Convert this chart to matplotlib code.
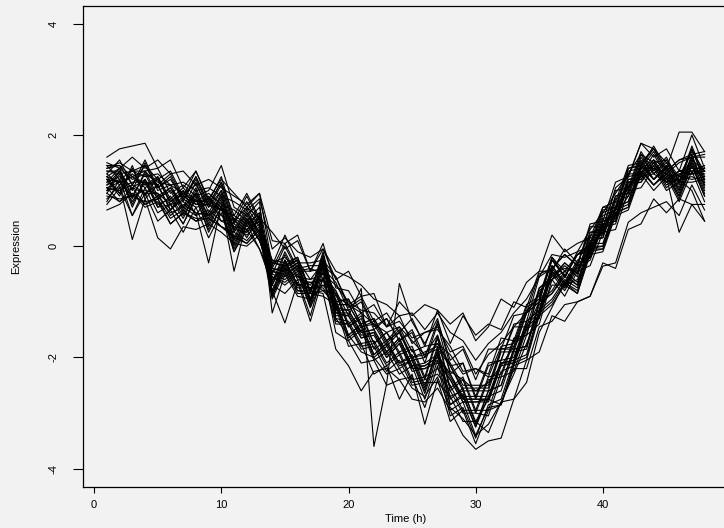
import numpy as np
import matplotlib.pyplot as plt

plt.rcParams['font.family'] = ['Liberation Sans', 'DejaVu Sans']

# time points (hours)
hours = list(range(1, 49))

# expression profiles, one list per gene
g01 = [1.60, 1.75, 1.80, 1.85, 1.40, 1.55, 1.05, 1.35, 0.85, 1.20, 0.95, 0.70,
       0.95, 0.10, 0.05, 0.20, -0.45, 0.05, -0.75, -0.80, -1.20, -1.05, -1.45, -1.25,
       -1.75, -1.55, -1.50, -1.80, -2.25, -2.20, -2.30, -1.65, -1.70, -1.05, -0.90, -0.20,
       -0.45, -0.15, 0.05, 0.70, 0.80, 1.45, 1.50, 1.75, 1.35, 1.55, 1.65, 1.70]
g02 = [1.30, 1.55, 1.10, 1.45, 1.05, 1.20, 0.85, 1.25, 0.75, 1.15, 0.55, 0.95,
       0.50, 0.25, -0.05, 0.10, -0.45, -0.05, -0.60, -0.45, -0.90, -0.85, -1.45, -1.00,
       -1.25, -1.05, -1.15, -1.40, -1.20, -1.70, -1.45, -0.95, -1.10, -0.65, -0.45, 0.20,
       -0.10, 0.05, 0.15, 0.70, 0.70, 1.30, 1.30, 1.55, 1.20, 1.35, 1.35, 1.45]
g03 = [1.20, 0.95, 1.45, 0.85, 1.10, 0.65, 1.00, 0.55, 0.90, 0.45, 0.50, 0.15,
       0.55, -0.85, -0.30, -0.75, -0.75, -0.70, -0.80, -1.25, -0.76, -3.60, -2.47, -0.67,
       -1.36, -1.75, -1.30, -2.15, -2.10, -2.75, -2.15, -2.05, -1.45, -1.45, -0.75, -0.60,
       -0.35, -0.55, 0.15, 0.15, 0.80, 0.90, 1.50, 1.20, 1.45, 1.00, 1.60, 1.10]
g04 = [1.00, 1.35, 0.75, 1.20, 0.70, 0.75, 0.40, 0.90, 0.25, 0.70, -0.10, 0.40,
       -0.05, -0.70, -0.85, -0.60, -1.25, -0.45, -1.55, -1.70, -2.10, -2.05, -2.50, -2.40,
       -2.75, -2.80, -2.55, -2.95, -3.40, -3.65, -3.50, -3.45, -2.75, -2.45, -1.55, -1.10,
       -0.65, -0.85, -0.05, 0.00, 0.70, 0.80, 1.45, 1.20, 1.40, 0.95, 1.55, 1.00]
g05 = [0.90, 0.85, 0.90, 0.80, 0.85, 0.40, 0.60, 0.50, 0.50, 0.35, 0.15, 0.05,
       0.30, -0.90, -0.35, -0.80, -0.80, -0.85, -1.85, -2.15, -2.60, -2.25, -2.20, -2.40,
       -2.35, -2.90, -2.15, -3.05, -2.90, -3.45, -2.85, -2.75, -2.05, -1.95, -1.15, -0.95,
       -0.60, -0.75, -0.05, -0.05, 0.60, 0.70, 1.35, 1.10, 1.30, 0.90, 1.45, 0.90]
g06 = [1.05, 0.80, 0.95, 0.75, 0.85, 0.50, 0.65, 0.45, 0.60, 0.35, 0.25, 0.10,
       0.35, -0.70, -0.25, -0.70, -0.65, -0.80, -0.85, -1.45, -1.30, -1.85, -1.70, -2.10,
       -1.95, -2.50, -1.90, -2.70, -2.60, -3.15, -2.75, -2.85, -2.20, -2.20, -1.45, -1.35,
       -1.05, -1.00, -0.90, -0.36, -0.30, 0.43, 0.60, 0.70, 0.80, 0.55, 1.10, 0.65]
g07 = [1.40, 1.50, 1.35, 1.45, 1.20, 1.35, 0.90, 1.35, 0.80, 1.25, 0.45, 0.90,
       0.45, -0.25, -0.30, -0.20, -0.80, -0.15, -1.00, -0.95, -1.40, -1.30, -1.70, -1.55,
       -2.00, -1.95, -1.85, -2.15, -2.60, -2.60, -2.60, -1.90, -1.90, -1.20, -1.00, -0.20,
       -0.55, -0.15, 0.00, 0.65, 0.70, 1.40, 1.45, 1.80, 1.40, 2.05, 2.05, 1.70]
g08 = [1.15, 1.40, 0.85, 1.35, 0.90, 1.05, 0.65, 1.05, 0.50, 0.95, 0.15, 0.60,
       0.25, -0.40, -0.45, -0.30, -0.95, -0.25, -1.15, -1.15, -1.55, -1.50, -1.90, -1.65,
       -2.15, -2.10, -1.95, -2.30, -2.70, -2.70, -2.70, -2.05, -2.00, -1.35, -1.15, -0.35,
       -0.65, -0.25, -0.15, 0.45, 0.55, 1.25, 1.30, 1.65, 1.25, 0.25, 0.75, 0.45]
g09 = [0.85, 1.10, 0.12, 0.85, 0.15, -0.05, 0.35, 0.30, 0.40, 0.25, 0.05, 0.00,
       0.20, -0.95, -0.45, -0.85, -0.85, -0.90, -1.05, -1.65, -1.45, -2.00, -1.80, -2.20,
       -2.05, -2.65, -1.95, -2.85, -2.70, -3.25, -2.70, -2.60, -1.90, -1.85, -1.05, -0.85,
       -0.55, -0.70, 0.00, 0.00, 0.65, 0.75, 1.40, 1.10, 1.35, 0.90, 1.50, 0.95]
g10 = [1.25, 0.95, 1.05, 0.95, 0.95, 0.55, 0.75, 0.60, -0.30, 0.75, -0.45, 0.45,
       0.10, -0.50, -0.60, -0.40, -1.05, -0.35, -1.25, -1.25, -1.65, -1.60, -2.00, -1.75,
       -2.25, -2.20, -2.10, -2.40, -2.80, -2.80, -2.80, -2.15, -2.10, -1.45, -1.25, -0.45,
       -0.75, -0.35, -0.20, 0.40, 0.45, 1.15, 1.20, 1.50, 1.15, 1.30, 1.35, 1.35]
g11 = [1.35, 1.30, 1.35, 1.35, 1.40, 0.95, 1.10, 0.90, 1.00, 1.45, 0.70, 0.55,
       0.80, -1.20, -0.50, -0.90, -0.95, -0.70, -1.00, -1.60, -1.40, -1.95, -1.75, -2.10,
       -2.00, -2.55, -1.80, -2.75, -2.55, -3.20, -2.60, -2.50, -1.85, -1.80, -1.00, -0.80,
       -0.45, -0.65, 0.10, 0.15, 0.85, 0.95, 1.60, 1.30, 1.50, 1.10, 1.75, 1.15]
g12 = [1.10, 1.20, 0.80, 1.15, 0.70, 0.90, 0.55, 0.95, 0.40, 0.85, 0.05, 0.50,
       0.15, -0.80, -1.38, -0.65, -1.35, -0.55, -1.35, -1.40, -1.80, -1.75, -2.15, -1.95,
       -2.45, -2.40, -2.30, -2.60, -3.00, -3.00, -3.05, -2.35, -2.25, -1.60, -1.40, -0.60,
       -0.90, -0.45, -0.35, 0.25, 0.30, 1.00, 1.05, 1.40, 1.00, 1.15, 1.15, 1.20]
g13 = [1.30, 1.10, 1.30, 1.10, 1.25, 0.85, 1.05, 0.80, 0.95, 0.75, 0.65, 0.45,
       0.70, -0.40, 0.05, -0.40, -0.35, -0.35, -0.55, -1.05, -0.90, -1.35, -1.20, -1.55,
       -1.30, -1.80, -1.15, -1.75, -1.25, -1.60, -1.40, -1.50, -1.00, -1.10, -0.45, -0.45,
       -0.05, -0.30, 0.25, 0.25, 0.90, 0.95, 1.55, 1.20, 1.45, 1.05, 1.60, 1.10]
g14 = [0.75, 1.05, 0.55, 0.95, 0.45, 0.65, 0.25, 0.70, 0.15, 0.60, -0.10, 0.30,
       -0.05, -0.55, -0.70, -0.50, -1.10, -0.60, -1.40, -1.40, -1.85, -1.80, -2.25, -2.05,
       -2.50, -2.45, -2.45, -2.70, -3.15, -3.15, -3.35, -2.80, -2.75, -2.05, -1.90, -1.25,
       -1.35, -1.00, -0.90, -0.30, -0.40, 0.30, 0.40, 0.85, 0.60, 0.85, 0.75, 0.75]
g15 = [1.20, 1.15, 1.25, 1.10, 1.20, 0.80, 0.95, 0.80, 0.85, 0.70, 0.50, 0.35,
       0.60, -0.65, -0.10, -0.55, -0.60, -0.50, -0.80, -1.40, -1.20, -1.75, -1.55, -1.90,
       -1.80, -2.35, -1.60, -2.55, -2.35, -2.95, -2.35, -2.30, -1.65, -1.60, -0.80, -0.60,
       -0.30, -0.50, 0.20, 0.20, 0.90, 1.00, 1.65, 1.30, 1.55, 1.15, 1.75, 1.20]
g16 = [1.45, 1.45, 1.25, 1.35, 1.10, 1.30, 0.85, 1.20, 0.70, 1.10, 0.30, 0.70,
       0.35, -0.30, -0.35, -0.20, -0.85, -0.10, -1.05, -1.05, -1.45, -1.40, -1.80, -1.55,
       -2.05, -2.00, -1.75, -2.15, -2.55, -2.55, -2.55, -1.85, -1.85, -1.20, -1.00, -0.25,
       -0.55, -0.15, -0.05, 0.55, 0.65, 1.35, 1.40, 1.70, 1.30, 1.50, 1.60, 1.60]
g17 = [0.95, 1.30, 0.70, 1.20, 0.75, 0.85, 0.50, 0.95, 0.35, 0.80, 0.00, 0.50,
       0.10, -0.45, -0.55, -0.35, -1.00, -0.35, -1.20, -1.25, -1.65, -1.55, -2.00, -1.75,
       -2.20, -2.20, -2.05, -2.40, -2.80, -2.80, -2.75, -2.10, -2.10, -1.45, -1.25, -0.45,
       -0.75, -0.35, -0.20, 0.40, 0.45, 1.15, 1.15, 1.45, 1.10, 1.25, 1.30, 1.30]
g18 = [1.05, 1.00, 1.10, 0.95, 1.10, 0.65, 0.85, 0.70, 0.75, 0.55, 0.40, 0.25,
       0.50, -0.80, -0.25, -0.70, -0.75, -0.75, -1.10, -1.80, -1.75, -2.30, -2.15, -2.75,
       -2.30, -3.20, -2.40, -3.15, -2.95, -3.55, -2.95, -2.85, -2.10, -2.00, -1.20, -1.00,
       -0.65, -0.80, -0.10, -0.05, 0.60, 0.70, 1.35, 1.10, 1.30, 0.85, 1.45, 0.90]
g19 = [1.35, 1.35, 1.00, 1.50, 1.00, 1.10, 0.70, 1.15, 0.60, 1.00, 0.25, 0.65,
       0.25, -0.40, -0.45, -0.30, -0.95, -0.25, -1.10, -1.15, -1.55, -1.50, -1.90, -1.65,
       -2.15, -2.15, -2.00, -2.30, -2.75, -2.75, -2.75, -2.10, -2.05, -1.35, -1.15, -0.35,
       -0.70, -0.30, -0.20, 0.45, 0.50, 1.20, 1.25, 1.55, 1.20, 1.35, 1.40, 1.40]
g20 = [1.25, 1.15, 1.25, 1.05, 1.20, 0.80, 1.00, 0.75, 0.85, 0.65, 0.55, 0.40,
       0.60, -0.50, 0.00, -0.45, -0.45, -0.40, -0.65, -1.15, -1.00, -1.50, -1.30, -1.70,
       -1.50, -2.00, -1.35, -2.05, -1.85, -2.40, -1.85, -1.85, -1.25, -1.20, -0.50, -0.40,
       -0.15, -0.35, 0.35, 0.35, 1.00, 1.05, 1.70, 1.35, 1.60, 1.15, 1.80, 1.25]
g21 = [0.80, 1.20, 0.55, 1.05, 0.60, 0.75, 0.40, 0.85, 0.30, 0.70, -0.05, 0.45,
       0.10, -0.55, -0.65, -0.45, -1.10, -0.40, -1.30, -1.35, -1.75, -1.70, -2.10, -1.90,
       -2.40, -2.35, -2.20, -2.50, -2.95, -2.95, -2.95, -2.25, -2.15, -1.50, -1.30, -0.50,
       -0.80, -0.40, -0.25, 0.35, 0.40, 1.10, 1.15, 1.45, 1.05, 1.25, 1.20, 1.25]
g22 = [1.50, 1.40, 1.60, 1.40, 1.55, 1.30, 1.35, 1.10, 1.20, 1.05, 0.90, 0.75,
       0.95, -0.35, 0.20, -0.30, -0.30, -0.25, -0.55, -1.10, -0.95, -1.45, -1.30, -1.70,
       -1.55, -2.10, -1.40, -2.30, -2.10, -2.70, -2.10, -2.05, -1.40, -1.35, -0.55, -0.40,
       -0.15, -0.35, 0.40, 0.45, 1.15, 1.25, 1.85, 1.60, 1.75, 1.35, 2.00, 1.40]
g23 = [1.10, 1.35, 0.90, 1.30, 0.85, 1.00, 0.60, 1.00, 0.45, 0.90, 0.10, 0.55,
       0.20, -0.45, -0.50, -0.35, -1.00, -0.30, -1.20, -1.20, -1.60, -1.55, -1.95, -1.70,
       -2.20, -2.15, -2.00, -2.35, -2.75, -2.75, -2.75, -2.10, -2.05, -1.40, -1.20, -0.40,
       -0.70, -0.30, -0.20, 0.40, 0.45, 1.15, 1.20, 1.50, 1.15, 1.30, 1.30, 1.35]
g24 = [1.20, 0.90, 1.40, 0.90, 1.25, 0.75, 0.95, 0.80, 0.80, 0.65, 0.45, 0.30,
       0.55, -0.70, -0.15, -0.60, -0.65, -0.60, -0.85, -1.45, -1.25, -1.75, -1.55, -1.95,
       -1.85, -2.40, -1.65, -2.60, -2.40, -3.00, -2.40, -2.35, -1.70, -1.60, -0.75, -0.55,
       -0.30, -0.50, 0.25, 0.30, 1.05, 1.25, 1.85, 1.75, 1.50, 1.20, 1.00, 0.45]
g25 = [1.40, 1.45, 1.10, 1.55, 1.05, 1.25, 0.80, 1.25, 0.75, 1.15, 0.40, 0.80,
       0.40, -0.30, -0.35, -0.25, -0.85, -0.20, -1.05, -1.05, -1.45, -1.35, -1.75, -1.50,
       -2.00, -1.90, -1.80, -2.10, -2.50, -2.50, -2.50, -1.85, -1.80, -1.15, -0.95, -0.20,
       -0.55, -0.10, 0.00, 0.60, 0.70, 1.40, 1.45, 1.75, 1.35, 1.55, 1.60, 1.65]
g26 = [0.65, 0.75, 0.95, 0.70, 0.80, 0.40, 0.60, 0.45, 0.50, 0.35, 0.20, 0.05,
       0.30, -0.90, -0.40, -0.80, -0.85, -0.80, -1.05, -1.70, -1.50, -2.05, -1.90, -2.30,
       -2.15, -2.75, -2.05, -2.95, -2.80, -3.40, -2.90, -2.85, -2.15, -2.05, -1.25, -1.05,
       -0.70, -0.85, -0.15, -0.10, 0.55, 0.65, 1.30, 1.00, 1.25, 0.80, 1.35, 0.80]
g27 = [1.15, 1.25, 1.05, 1.20, 0.85, 1.05, 0.70, 0.95, 0.55, 0.90, 0.25, 0.60,
       0.20, -0.25, -0.40, -0.25, -0.80, -0.20, -1.00, -0.95, -1.40, -1.30, -1.70, -1.45,
       -1.90, -1.80, -1.75, -1.95, -2.30, -2.20, -2.35, -1.80, -1.75, -1.10, -0.95, -0.25,
       -0.55, -0.15, -0.10, 0.50, 0.55, 1.20, 1.20, 1.50, 1.15, 1.35, 1.30, 1.40]
g28 = [1.00, 1.05, 1.15, 1.15, 1.10, 0.65, 0.90, 0.75, 0.75, 0.65, 0.35, 0.30,
       0.45, -0.85, -0.25, -0.70, -0.75, -0.60, -0.95, -1.60, -1.40, -1.95, -1.75, -2.15,
       -2.05, -2.60, -1.85, -2.85, -2.65, -3.25, -2.60, -2.50, -1.85, -1.80, -1.00, -0.85,
       -0.50, -0.70, 0.05, 0.05, 0.70, 0.80, 1.45, 1.20, 1.40, 1.00, 1.65, 1.05]
g29 = [1.45, 1.20, 1.35, 1.25, 1.30, 1.10, 1.15, 1.00, 1.05, 0.90, 0.80, 0.65,
       0.85, -0.05, 0.15, -0.10, -0.20, -0.05, -0.45, -0.55, -0.70, -0.95, -1.05, -1.25,
       -1.20, -1.50, -1.20, -1.55, -1.70, -2.05, -1.75, -1.55, -1.20, -0.95, -0.55, -0.15,
       -0.20, -0.10, 0.30, 0.60, 0.95, 1.30, 1.65, 1.50, 1.55, 1.25, 1.70, 1.35]
g30 = [0.95, 0.80, 1.05, 0.75, 0.90, 0.60, 0.70, 0.55, 0.65, 0.45, 0.35, 0.20,
       0.40, -0.30, -0.20, -0.45, -0.40, -0.50, -0.70, -1.00, -1.15, -1.20, -1.45, -1.35,
       -1.65, -1.55, -1.45, -1.90, -1.80, -2.30, -1.95, -1.75, -1.45, -1.20, -0.85, -0.50,
       -0.40, -0.45, 0.00, 0.25, 0.55, 0.90, 1.25, 1.30, 1.15, 1.20, 1.25, 1.15]
g31 = [1.25, 1.40, 1.20, 1.30, 1.15, 1.10, 0.95, 1.10, 0.70, 1.00, 0.45, 0.70,
       0.50, -0.60, -0.40, -0.55, -0.70, -0.35, -1.30, -1.60, -1.90, -2.00, -2.30, -2.20,
       -2.55, -2.70, -2.35, -2.90, -3.10, -3.40, -3.20, -2.80, -2.30, -1.75, -1.20, -0.70,
       -0.70, -0.60, -0.10, 0.30, 0.70, 1.05, 1.40, 1.55, 1.40, 1.25, 1.55, 1.35]
g32 = [1.05, 1.15, 0.90, 1.00, 0.95, 0.75, 0.80, 0.60, 0.55, 0.70, 0.30, 0.25,
       0.45, -0.45, -0.35, -0.25, -0.60, -0.30, -0.90, -1.05, -1.20, -1.40, -1.55, -1.45,
       -1.70, -1.95, -1.60, -2.25, -2.40, -2.60, -2.45, -2.15, -1.80, -1.50, -1.00, -0.60,
       -0.45, -0.40, -0.05, 0.30, 0.65, 1.05, 1.40, 1.40, 1.30, 1.15, 1.50, 1.20]

genes = [g01, g02, g03, g04, g05, g06, g07, g08, g09, g10, g11, g12, g13, g14,
         g15, g16, g17, g18, g19, g20, g21, g22, g23, g24, g25, g26, g27, g28,
         g29, g30, g31, g32]

bg = '#f2f2f2'
fig = plt.figure(figsize=(7.24, 5.28), dpi=100, facecolor=bg)
ax = fig.add_axes([0.1146, 0.0785, 0.8916, 0.9105], facecolor=bg)

for g in genes:
    ax.plot(hours, g, color='black', lw=0.8)

ax.set_xlim(-0.88, 49.88)
ax.set_ylim(-4.32, 4.32)
ax.set_xticks([0, 10, 20, 30, 40])
ax.set_yticks([-4, -2, 0, 2, 4])
ax.set_yticklabels(['-4', '-2', '0', '2', '4'], rotation=90, va='center')
ax.tick_params(axis='x', length=4.5, width=0.8, pad=5, labelsize=8)
ax.tick_params(axis='y', length=7.5, width=0.8, pad=10, labelsize=8)
for s in ax.spines.values():
    s.set_linewidth(0.9)
ax.set_xlabel('Time (h)', fontsize=8, labelpad=3)
ax.set_ylabel('Expression', fontsize=8, labelpad=20)

fig.savefig('out.png', dpi=100, facecolor=bg)
